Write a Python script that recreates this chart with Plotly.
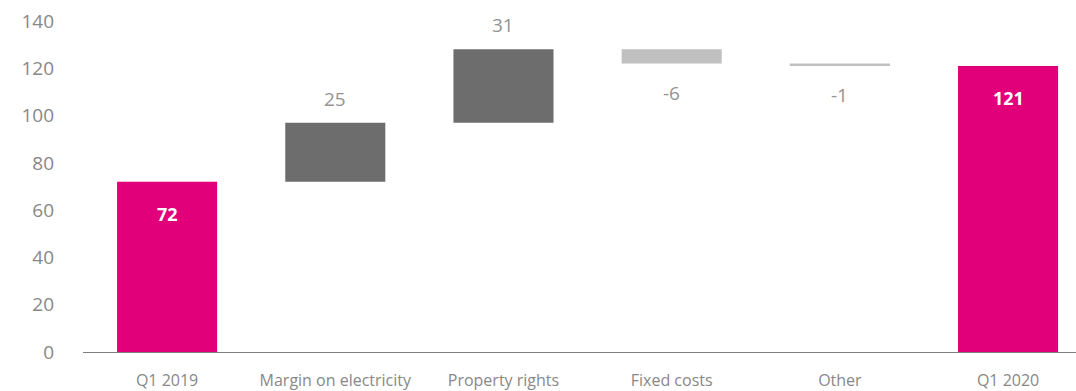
import plotly.graph_objects as go

# Waterfall data: EBITDA bridge Q1 2019 -> Q1 2020
categories = ["Q1 2019", "Margin on electricity", "Property rights", "Fixed costs", "Other", "Q1 2020"]
values = [72, 25, 31, -6, -1, 121]
measures = ["absolute", "relative", "relative", "relative", "relative", "total"]
y_ticks = [0, 20, 40, 60, 80, 100, 120, 140]

MAGENTA = "#E2007A"
DARK = "#6D6D6D"
LIGHT = "#C0C0C0"
TEXT = "#939393"
FONT = "Open Sans"

fig = go.Figure(go.Waterfall(
    x=categories,
    y=values,
    measure=measures,
    width=0.595,
    increasing=dict(marker=dict(color=DARK, line=dict(width=0))),
    decreasing=dict(marker=dict(color=LIGHT, line=dict(width=0))),
    totals=dict(marker=dict(color=MAGENTA, line=dict(width=0))),
    connector=dict(visible=False),
    hoverinfo="skip",
))

# value labels: white bold inside the totals, grey outside the steps
running = 0
for cat, val, m in zip(categories, values, measures):
    if m == "absolute":
        running = val
        fig.add_annotation(x=cat, y=running, text=f"<b>{val}</b>", showarrow=False,
                           yanchor="middle", yshift=-32,
                           font=dict(family=FONT, size=18, color="white"))
    elif m == "total":
        fig.add_annotation(x=cat, y=running, text=f"<b>{running}</b>", showarrow=False,
                           yanchor="middle", yshift=-32,
                           font=dict(family=FONT, size=18, color="white"))
    else:
        running = running + val
        if val >= 0:
            fig.add_annotation(x=cat, y=running, text=str(val), showarrow=False,
                               yanchor="middle", yshift=24,
                               font=dict(family=FONT, size=19, color=TEXT))
        else:
            fig.add_annotation(x=cat, y=running, text=str(val), showarrow=False,
                               yanchor="middle", yshift=-29,
                               font=dict(family=FONT, size=19, color=TEXT))

fig.update_layout(
    width=1076,
    height=391,
    margin=dict(l=83, r=0, t=21, b=39),
    paper_bgcolor="white",
    plot_bgcolor="white",
    showlegend=False,
    font=dict(family=FONT, color=TEXT),
)
fig.update_xaxes(
    type="category",
    range=[-0.5, 5.404],
    showline=True,
    linecolor="#808080",
    linewidth=1,
    showgrid=False,
    ticks="",
    tickfont=dict(family=FONT, size=16, color="#888888"),
    ticklabelstandoff=14,
)
fig.update_yaxes(
    range=[0, 140],
    tickvals=y_ticks,
    showgrid=False,
    zeroline=False,
    showline=False,
    ticks="",
    tickfont=dict(family=FONT, size=19, color="#888888"),
    ticklabelstandoff=28,
)

fig.write_html("out.html")
